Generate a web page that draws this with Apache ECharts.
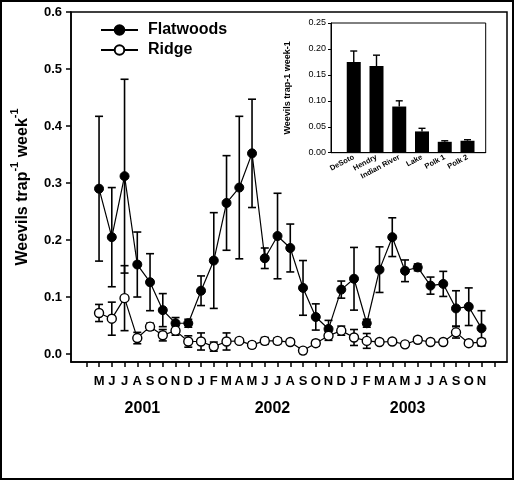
<!DOCTYPE html>
<html><head><meta charset="utf-8">
<script src="https://cdn.jsdelivr.net/npm/echarts@6/dist/echarts.min.js"></script>
<style>html,body{margin:0;padding:0;background:#fff}#c{width:514px;height:480px}</style>
</head><body><div id="c"></div>
<script>
// ---- data ----
const months = ['M','J','J','A','S','O','N','D','J','F','M','A','M','J','J','A','S','O','N','D','J','F','M','A','M','J','J','A','S','O','N'];
const flatMean = [0.290,0.205,0.312,0.157,0.126,0.077,0.054,0.054,0.111,0.164,0.265,0.292,0.352,0.168,0.207,0.186,0.116,0.065,0.044,0.113,0.132,0.054,0.148,0.205,0.146,0.152,0.120,0.123,0.080,0.083,0.045];
const flatSE   = [0.127,0.087,0.170,0.057,0.050,0.029,0.010,0.007,0.026,0.084,0.083,0.125,0.095,0.018,0.075,0.042,0.048,0.023,0.015,0.015,0.055,0.007,0.040,0.034,0.019,0.006,0.015,0.022,0.031,0.033,0.031];
const ridgeMean = [0.072,0.062,0.098,0.028,0.048,0.033,0.041,0.022,0.022,0.013,0.022,0.023,0.016,0.023,0.023,0.021,0.006,0.019,0.032,0.041,0.029,0.023,0.021,0.022,0.017,0.025,0.021,0.021,0.038,0.019,0.021];
const ridgeSE   = [0.015,0.029,0.057,0.010,0.006,0.010,0.008,0.010,0.015,0.008,0.015,0.004,0.005,0.006,0.005,0.004,0.005,0.005,0.008,0.008,0.014,0.013,0.004,0.004,0.004,0.005,0.004,0.004,0.010,0.004,0.006];
const years = ['2001','2002','2003'];
const yearPos = [3.4,13.6,24.2];
const yTicks = [0,0.1,0.2,0.3,0.4,0.5,0.6];
const sites = ['DeSoto','Hendry','Indian River','Lake','Polk 1','Polk 2'];
const siteMean = [0.175,0.167,0.089,0.041,0.021,0.023];
const siteSE   = [0.021,0.021,0.011,0.006,0.002,0.002];

const ff = 'Liberation Sans, Arial, Helvetica, sans-serif';
const monthPos = months.map((m,i)=>i);
const tickPos = []; for (let i=-1;i<=31;i++) tickPos.push(i);

function errRender(capHalf, lw, lowerCap){
  return function(params, api){
    const x = api.value(0), lo = api.value(1), hi = api.value(2);
    const p1 = api.coord([x, lo]), p2 = api.coord([x, hi]);
    const style = {stroke:'#000', lineWidth:lw, fill:null};
    const ch = [
      {type:'line', shape:{x1:p1[0],y1:p1[1],x2:p2[0],y2:p2[1]}, style:style},
      {type:'line', shape:{x1:p2[0]-capHalf,y1:p2[1],x2:p2[0]+capHalf,y2:p2[1]}, style:style}
    ];
    if (lowerCap) ch.push({type:'line', shape:{x1:p1[0]-capHalf,y1:p1[1],x2:p1[0]+capHalf,y2:p1[1]}, style:style});
    return {type:'group', children:ch};
  };
}

const chart = echarts.init(document.getElementById('c'), null, {renderer:'canvas'});
const option = {
  animation:false,
  backgroundColor:'#fff',
  graphic:[{type:'rect', silent:true, shape:{x:1,y:1,width:512,height:478}, style:{fill:'none',stroke:'#000',lineWidth:2}, z:100}],
  legend:{
    data:['Flatwoods','Ridge'], orient:'vertical', left:95, top:17,
    itemWidth:37, itemHeight:12, itemGap:4,
    textStyle:{fontFamily:ff, fontSize:16, fontWeight:'bold', color:'#000', padding:[0,0,0,5]}
  },
  grid:[
    {left:71, top:12, right:7, bottom:118, show:true, borderColor:'#000', borderWidth:1.5, backgroundColor:'transparent', containLabel:false},
    {left:331, top:23, width:154.7, height:129.7, show:true, borderColor:'#000', borderWidth:1, backgroundColor:'#fff', containLabel:false},
    {left:71, top:12, right:7, bottom:118, show:false, containLabel:false}
  ],
  xAxis:[
    {type:'value', gridIndex:0, min:-2.2, max:32,
     axisLine:{show:true, onZero:false, lineStyle:{color:'#000', width:1.5}},
     axisTick:{show:true, customValues:tickPos, length:5, lineStyle:{color:'#000', width:1.5}},
     axisLabel:{customValues:monthPos, formatter:v=>months[Math.round(v)], fontFamily:ff, fontSize:13, fontWeight:'bold', color:'#000', margin:13},
     splitLine:{show:false}},
    {type:'value', gridIndex:1, min:0, max:6.8,
     axisLine:{show:true, onZero:false, lineStyle:{color:'#000', width:1}},
     axisTick:{show:false},
     axisLabel:{customValues:[1,2,3,4,5,6], formatter:v=>sites[Math.round(v)-1], rotate:28, fontFamily:ff, fontSize:7.5, fontWeight:'bold', color:'#000', margin:4},
     splitLine:{show:false}},
    {type:'value', gridIndex:2, min:-2.2, max:32,
     axisLine:{show:false}, axisTick:{show:false},
     axisLabel:{customValues:yearPos, formatter:v=>years[yearPos.indexOf(v)], fontFamily:ff, fontSize:16, fontWeight:'bold', color:'#000', margin:39},
     splitLine:{show:false}}
  ],
  yAxis:[
    {type:'value', gridIndex:0, min:-0.014, max:0.6,
     axisLine:{show:true, onZero:false, lineStyle:{color:'#000', width:1.5}},
     axisTick:{show:true, customValues:yTicks, length:5, lineStyle:{color:'#000', width:1.5}},
     axisLabel:{customValues:yTicks, formatter:v=>v.toFixed(1), fontFamily:ff, fontSize:13, fontWeight:'bold', color:'#000', margin:9},
     splitLine:{show:false},
     name:'{a|Weevils trap}{s|-1}{a| week}{s|-1}', nameLocation:'middle', nameGap:40, nameRotate:90,
     nameTextStyle:{rich:{
       a:{fontFamily:ff, fontSize:16, fontWeight:'bold', color:'#000', lineHeight:22, verticalAlign:'bottom'},
       s:{fontFamily:ff, fontSize:11, fontWeight:'bold', color:'#000', lineHeight:12, verticalAlign:'top'}
     }}},
    {type:'value', gridIndex:1, min:0, max:0.25, interval:0.05,
     axisLine:{show:true, lineStyle:{color:'#000', width:1}},
     axisTick:{show:true, length:3, lineStyle:{color:'#000'}},
     axisLabel:{formatter:v=>v.toFixed(2), fontFamily:ff, fontSize:9, color:'#000', margin:5},
     splitLine:{show:false},
     name:'Weevils trap-1 week-1', nameLocation:'middle', nameGap:39,
     nameTextStyle:{fontFamily:ff, fontSize:9, fontWeight:'bold', color:'#000'}},
    {type:'value', gridIndex:2, min:0, max:1, show:false}
  ],
  series:[
    {type:'custom', name:'FlatErr', xAxisIndex:0, yAxisIndex:0, z:2,
     renderItem:errRender(4,1.6,true), encode:{x:0,y:[1,2]},
     data:flatMean.map((m,i)=>[i, m-flatSE[i], m+flatSE[i]])},
    {type:'custom', name:'RidgeErr', xAxisIndex:0, yAxisIndex:0, z:2,
     renderItem:errRender(4,1.6,true), encode:{x:0,y:[1,2]},
     data:ridgeMean.map((m,i)=>[i, m-ridgeSE[i], m+ridgeSE[i]])},
    {type:'line', name:'Flatwoods', xAxisIndex:0, yAxisIndex:0, z:3,
     symbol:'circle', symbolSize:9, showAllSymbol:true,
     lineStyle:{color:'#000', width:1.2}, itemStyle:{color:'#000', borderColor:'#000', borderWidth:1},
     data:flatMean.map((m,i)=>[i,m])},
    {type:'line', name:'Ridge', xAxisIndex:0, yAxisIndex:0, z:4,
     symbol:'circle', symbolSize:9, showAllSymbol:true,
     lineStyle:{color:'#000', width:1.2}, itemStyle:{color:'#fff', borderColor:'#000', borderWidth:1.4},
     data:ridgeMean.map((m,i)=>[i,m])},
    {type:'bar', name:'Sites', xAxisIndex:1, yAxisIndex:1, barWidth:14, z:2,
     itemStyle:{color:'#000'},
     data:siteMean.map((m,i)=>[i+1,m])},
    {type:'custom', name:'SiteErr', xAxisIndex:1, yAxisIndex:1, z:3,
     renderItem:errRender(3.5,1.4,false), encode:{x:0,y:[1,2]},
     data:siteMean.map((m,i)=>[i+1, m, m+siteSE[i]])}
  ]
};
chart.setOption(option);
</script>
</body></html>
